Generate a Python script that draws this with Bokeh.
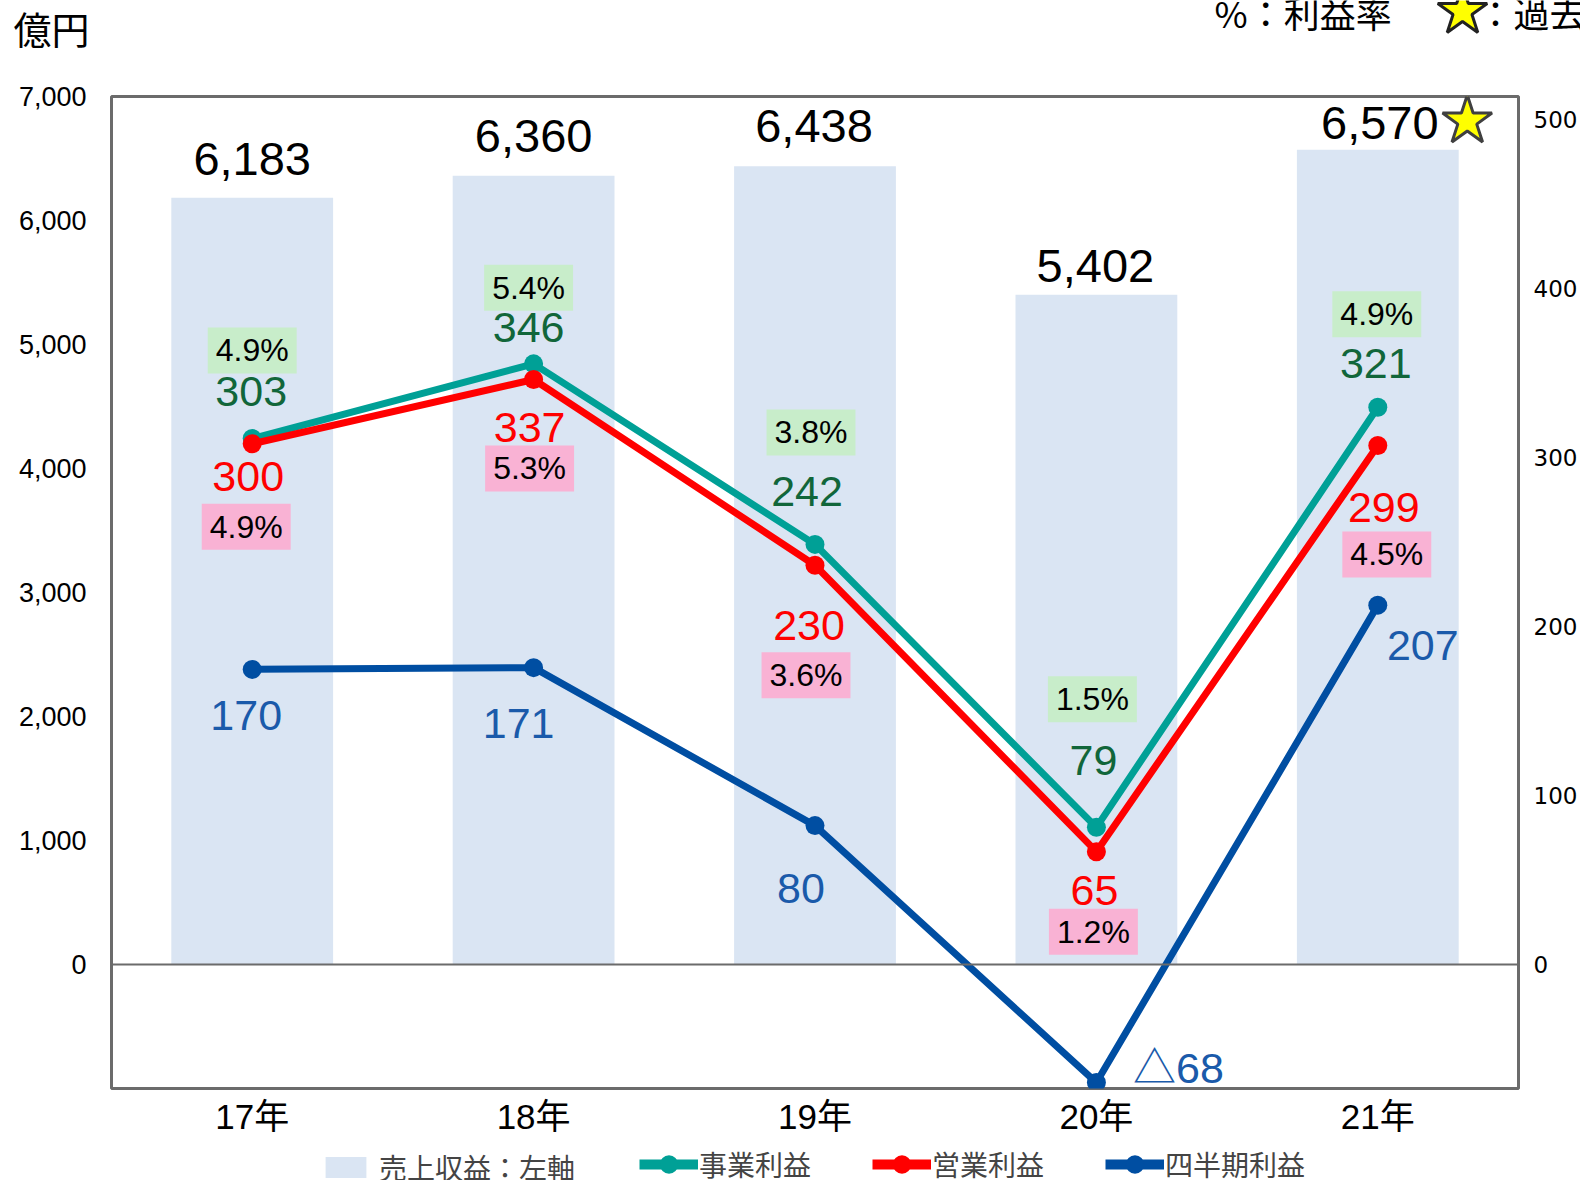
from bokeh.plotting import figure
from bokeh.layouts import column
from bokeh.models import (Range1d, LinearAxis, FixedTicker, NumeralTickFormatter, Span,
                          Legend, LegendItem, ColumnDataSource)
from bokeh.transform import dodge
from bokeh.core.properties import value
from bokeh.embed import file_html
from bokeh.resources import INLINE

# ---------------- data ----------------
categories = ["17年", "18年", "19年", "20年", "21年"]
sales = [6183, 6360, 6438, 5402, 6570]
sales_labels = ["6,183", "6,360", "6,438", "5,402", "6,570"]
jigyo = [303, 346, 242, 79, 321]          # 事業利益
eigyo = [300, 337, 230, 65, 299]          # 営業利益
shihanki = [170, 171, 80, -68, 207]       # 四半期利益
shihanki_labels = ["170", "171", "80", "△68", "207"]
jigyo_margin = ["4.9%", "5.4%", "3.8%", "1.5%", "4.9%"]
eigyo_margin = ["4.9%", "5.3%", "3.6%", "1.2%", "4.5%"]
record_index = 4                           # ☆ 過去最高
left_ticks = [0, 1000, 2000, 3000, 4000, 5000, 6000, 7000]
right_ticks = [0, 100, 200, 300, 400, 500]
legend_labels = ["売上収益：左軸", "事業利益", "営業利益", "四半期利益"]
unit_label = "億円"
note_margin = "%：利益率"
note_record = "：過去最高"

# ---------------- label offsets (screen px) ----------------
bar_dx = [0, 0, -1, -1, 2]
bar_dy = [-39, -40, -40, -29, -27]
jv_dx = [-1, -5, -8, -3, -2]
jv_dy = [-47, -36, -53, -67, -44]
jm_dx = [0, -5, -4, -4, -1]
jm_dy = [-88, -76, -112, -128, -93]
ev_dx = [-4, -4, -6, -2, 6]
ev_dy = [33, 48, 60, 39, 62]
em_dx = [-6, -4, -9, -3, 9]
em_dy = [83, 89, 110, 80, 109]
sv_dx = [-6, -15, -14, 82, 45]
sv_dy = [46, 56, 63, -15, 40]

# ---------------- styles ----------------
BAR = "#DAE5F3"
TEAL = "#00A096"
RED = "#FF0000"
BLUE = "#004EA2"
DKGREEN = "#11663A"
BLUETXT = "#1A5AAA"
GREENBOX = "#C8EDCA"
PINKBOX = "#F9B2D4"
FRAME = "#6B6B6B"
FONT = "Liberation Sans"
JFONT = "Noto Sans CJK JP"
W = 1580


def blank_figure(h, yr):
    fig = figure(width=W, height=h, output_backend="svg", toolbar_location=None,
                 x_range=Range1d(0, W), y_range=yr, min_border=0,
                 x_axis_location=None, y_axis_location=None)
    fig.grid.visible = False
    fig.outline_line_color = None
    fig.background_fill_color = "white"
    fig.border_fill_color = "white"
    fig.frame_align = False
    return fig


# ---------------- header ----------------
hdr = blank_figure(84, Range1d(84, 0))
hdr.text(x=[13], y=[27], text=[unit_label], text_align="left", text_baseline="middle",
         text_font=value(JFONT), text_font_size="38px", text_color="black")
hdr.text(x=[1214], y=[11], text=[note_margin], text_align="left", text_baseline="middle",
         text_font=value(JFONT), text_font_size="36px", text_color="black")
hdr.scatter(x=[1462], y=[11], marker="star", size=52, fill_color="#FFFF00",
            line_color="#222222", line_width=3)
hdr.text(x=[1477], y=[11], text=[note_record], text_align="left", text_baseline="middle",
         text_font=value(JFONT), text_font_size="36px", text_color="black")

# ---------------- main chart ----------------
xs = [i + 0.5 for i in range(len(categories))]

p = figure(width=W, height=1056, output_backend="svg", toolbar_location=None,
           x_range=Range1d(0, len(categories)), y_range=Range1d(-1000, 7000),
           min_border_left=111, min_border_right=W - 1520, min_border_top=12,
           min_border_bottom=52)
p.frame_align = False
p.extra_y_ranges = {"profit": Range1d(-1000 / 14, 7000 / 14),
                    "rlabels": Range1d(-73.2, 513.6)}

p.grid.visible = False
p.outline_line_color = FRAME
p.outline_line_width = 3
p.background_fill_color = "white"
p.border_fill_color = "white"

# x axis
p.xaxis.ticker = FixedTicker(ticks=xs)
p.xaxis.major_label_overrides = {x: c for x, c in zip(xs, categories)}
p.xaxis.major_label_text_font = FONT + ", " + JFONT
p.xaxis.major_label_text_font_size = "35px"
p.xaxis.major_label_text_color = "black"
p.xaxis.major_label_standoff = 8
p.xaxis.axis_line_color = None
p.xaxis.major_tick_line_color = None
p.xaxis.major_tick_out = 0
p.xaxis.major_tick_in = 0
p.xaxis.minor_tick_line_color = None

# left axis
p.yaxis.ticker = FixedTicker(ticks=left_ticks)
p.yaxis.formatter = NumeralTickFormatter(format="0,0")
p.yaxis.major_label_text_font = FONT
p.yaxis.major_label_text_font_size = "27px"
p.yaxis.major_label_text_color = "black"
p.yaxis.major_label_standoff = 25
p.yaxis.axis_line_color = None
p.yaxis.major_tick_line_color = None
p.yaxis.major_tick_out = 0
p.yaxis.major_tick_in = 0
p.yaxis.minor_tick_line_color = None

# right axis
raxis = LinearAxis(y_range_name="rlabels", ticker=FixedTicker(ticks=right_ticks))
raxis.major_label_text_font = "DejaVu Sans"
raxis.major_label_text_font_size = "23px"
raxis.major_label_text_color = "black"
raxis.major_label_standoff = 15
raxis.axis_line_color = None
raxis.major_tick_line_color = None
raxis.major_tick_out = 0
raxis.major_tick_in = 0
raxis.minor_tick_line_color = None
p.add_layout(raxis, "right")

# bars
bars = p.vbar(x=xs, top=sales, width=0.575, fill_color=BAR, line_color=None)

# zero line
p.add_layout(Span(location=0, dimension="width", line_color=FRAME, line_width=2))

# lines
p.line(xs, jigyo, y_range_name="profit", line_color=TEAL, line_width=7)
p.scatter(xs, jigyo, y_range_name="profit", size=19, fill_color=TEAL, line_color=None)
p.line(xs, eigyo, y_range_name="profit", line_color=RED, line_width=7)
p.scatter(xs, eigyo, y_range_name="profit", size=19, fill_color=RED, line_color=None)
p.line(xs, shihanki, y_range_name="profit", line_color=BLUE, line_width=7)
p.scatter(xs, shihanki, y_range_name="profit", size=19, fill_color=BLUE, line_color=None)

# sales labels
p.text(x=xs, y=sales, text=sales_labels, x_offset=bar_dx, y_offset=bar_dy,
       text_align="center", text_baseline="middle", text_font=value(FONT),
       text_font_size="47px", text_color="black")

# record star
star_src = ColumnDataSource(dict(x=[xs[record_index]], y=[sales[record_index]]))
p.scatter(x=dodge("x", 0.318, range=p.x_range), y=dodge("y", 232, range=p.y_range),
          source=star_src, marker="star", size=52, fill_color="#FFFF00",
          line_color="#404040", line_width=3)

# profit value labels
p.text(x=xs, y=jigyo, text=[str(v) for v in jigyo], x_offset=jv_dx, y_offset=jv_dy,
       y_range_name="profit", text_align="center", text_baseline="middle",
       text_font=value(FONT), text_font_size="43px", text_color=DKGREEN)
p.text(x=xs, y=eigyo, text=[str(v) for v in eigyo], x_offset=ev_dx, y_offset=ev_dy,
       y_range_name="profit", text_align="center", text_baseline="middle",
       text_font=value(FONT), text_font_size="43px", text_color=RED)
p.text(x=xs, y=shihanki, text=shihanki_labels, x_offset=sv_dx, y_offset=sv_dy,
       y_range_name="profit", text_align="center", text_baseline="middle",
       text_font=value(FONT + ", " + JFONT), text_font_size="43px", text_color=BLUETXT)

# margin boxes
p.text(x=xs, y=jigyo, text=jigyo_margin, x_offset=jm_dx, y_offset=jm_dy,
       y_range_name="profit", text_align="center", text_baseline="middle",
       text_font=value(FONT), text_font_size="32px", text_color="black",
       background_fill_color=GREENBOX, padding=(8, 5))
p.text(x=xs, y=eigyo, text=eigyo_margin, x_offset=em_dx, y_offset=em_dy,
       y_range_name="profit", text_align="center", text_baseline="middle",
       text_font=value(FONT), text_font_size="32px", text_color="black",
       background_fill_color=PINKBOX, padding=(8, 5))

# ---------------- footer legend ----------------
ftr = blank_figure(40, Range1d(0, 40))
OFF = [-1000, -900]   # legend-only renderers, kept outside the visible range
lg_bar = ftr.vbar(x=OFF[:1], top=OFF[:1], width=1, fill_color=BAR, line_color=None)
lg = []
for c in (TEAL, RED, BLUE):
    l = ftr.line(OFF, OFF, line_color=c, line_width=10)
    s = ftr.scatter(OFF, OFF, size=17, fill_color=c, line_color=None)
    lg.append([l, s])

common = dict(orientation="horizontal", label_text_font=JFONT, label_text_font_size="28px",
              padding=4, margin=0, border_line_color=None, background_fill_alpha=0)
legend_a = Legend(items=[LegendItem(label=legend_labels[0], renderers=[lg_bar])],
                  location=(320, -7), glyph_width=51, glyph_height=26, label_standoff=8,
                  **common)
legend_b = Legend(items=[
    LegendItem(label=legend_labels[1], renderers=lg[0]),
    LegendItem(label=legend_labels[2], renderers=lg[1]),
    LegendItem(label=legend_labels[3], renderers=lg[2]),
], location=(639, -7), glyph_width=59, glyph_height=46, label_standoff=1, spacing=61,
    **common)
ftr.add_layout(legend_a)
ftr.add_layout(legend_b)

layout = column(hdr, p, ftr, spacing=0)
open("out.html", "w").write(file_html(layout, INLINE))
